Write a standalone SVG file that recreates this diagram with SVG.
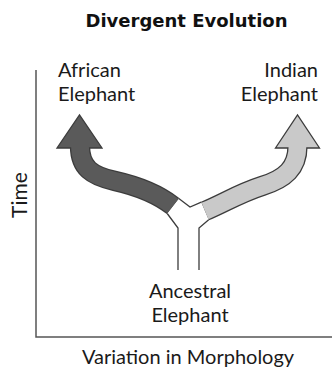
<svg xmlns="http://www.w3.org/2000/svg" width="332" height="374" viewBox="0 0 332 374">
<style>
.lbl{font-family:Lato,"Liberation Sans",sans-serif;font-size:20px;fill:#1a1a1a}
.title{font-family:"DejaVu Sans",sans-serif;font-weight:bold;font-size:18px;fill:#111}
.axis{stroke:#555;stroke-width:1.5;fill:none}
.edge{fill:none;stroke:#3c3c3c;stroke-width:20.3;stroke-linecap:butt}
.dark{fill:none;stroke:#5a5a5a;stroke-width:17.7;stroke-linecap:butt}
.light{fill:none;stroke:#c9c9c9;stroke-width:17.7;stroke-linecap:butt}
.line{fill:none;stroke:#3c3c3c;stroke-width:1.3;stroke-linejoin:miter}
</style>
<rect width="332" height="374" fill="#fff"/>
<text class="title" x="186.5" y="27" text-anchor="middle">Divergent Evolution</text>
<g id="axes">
<path class="axis" d="M36,70 V337 H332"/>
<text class="lbl" transform="translate(27,195) rotate(-90)" text-anchor="middle" style="font-size:21px">Time</text>
<text class="lbl" x="188" y="364" text-anchor="middle">Variation in Morphology</text>
</g>
<g id="connectors">
<path id="junction" d="M178,270 V228 L167.2,213.5 L178.8,198.5 L190,207 L201.3,202.2 L208.7,219.8 L199,228 V270 Z" fill="#fff"/>
<path class="line" d="M178,270 V228 L167.2,213.5 M178.8,198.5 L190,207 L201.3,202.2 M208.7,219.8 L199,228 V270"/>
<path class="edge" d="M173,206 C155,192 135,185.5 115,181 C92,176 80,168 80,146"/>
<path class="edge" d="M205,211 C224,203 240,193 262,186 C285,179 297.5,168 297.5,146"/>
<polygon points="57,148 79.5,115 102,148" fill="#5a5a5a" stroke="#3c3c3c" stroke-width="1.3"/>
<polygon points="275.5,148 297.5,115 319.5,148" fill="#c9c9c9" stroke="#3c3c3c" stroke-width="1.3"/>
<path class="dark" d="M173,206 C155,192 135,185.5 115,181 C92,176 80,168 80,146"/>
<path class="light" d="M205,211 C224,203 240,193 262,186 C285,179 297.5,168 297.5,146"/>
</g>
<g id="african">
<text class="lbl" x="58" y="77">African</text>
<text class="lbl" x="58" y="100.5">Elephant</text>
</g>
<g id="indian">
<text class="lbl" x="318" y="77" text-anchor="end">Indian</text>
<text class="lbl" x="318" y="100.5" text-anchor="end">Elephant</text>
</g>
<g id="ancestral">
<text class="lbl" x="190" y="298" text-anchor="middle">Ancestral</text>
<text class="lbl" x="190" y="321.5" text-anchor="middle">Elephant</text>
</g>
</svg>
